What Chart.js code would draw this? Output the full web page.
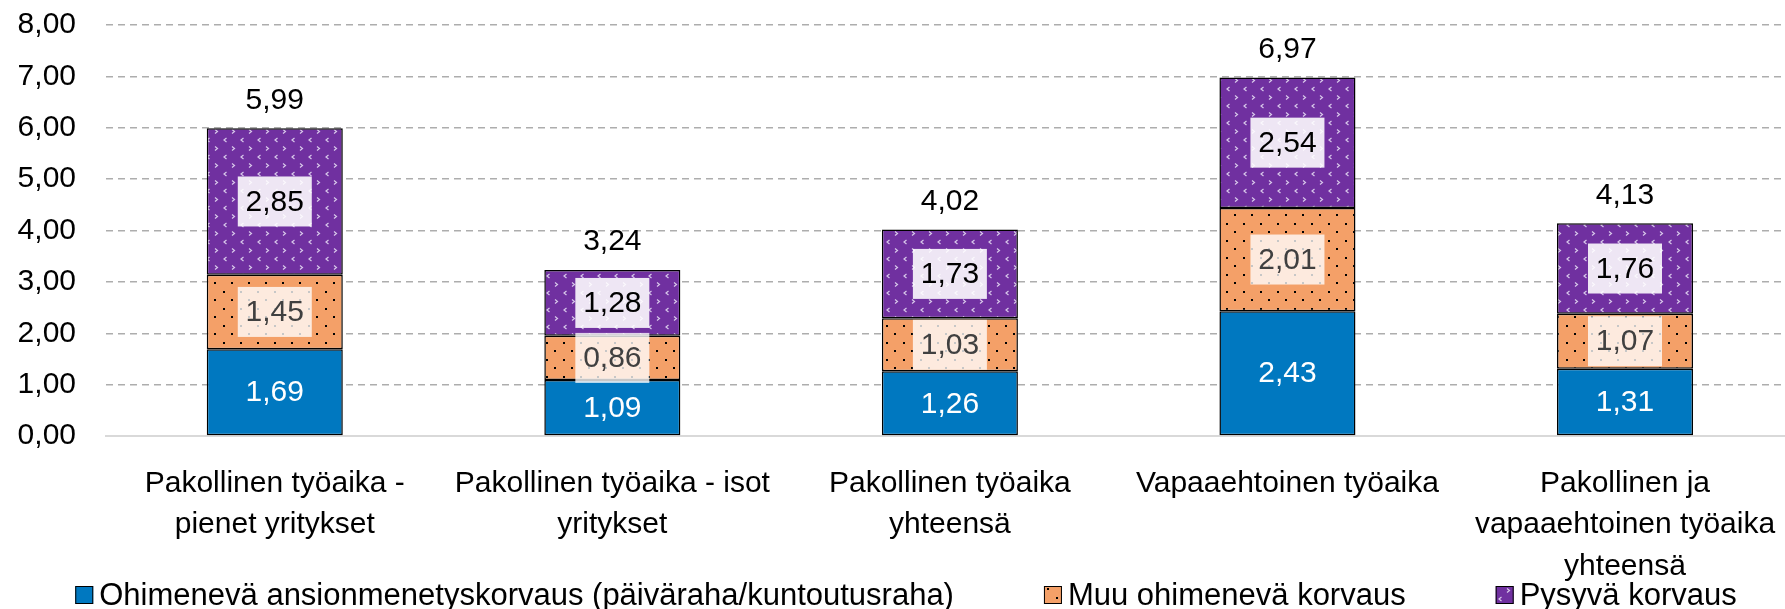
<!DOCTYPE html>
<html>
<head>
<meta charset="utf-8">
<script src="https://cdn.jsdelivr.net/npm/chart.js@4"></script>
<style>
  html, body { margin: 0; padding: 0; background: #fff; }
  #chart { display: block; }
</style>
</head>
<body>
<canvas id="chart" width="1785" height="609"></canvas>
<script>
// ==================== DATA ====================
const categories = [
    ['Pakollinen työaika -', 'pienet yritykset'],
    ['Pakollinen työaika - isot', 'yritykset'],
    ['Pakollinen työaika', 'yhteensä'],
    'Vapaaehtoinen työaika',
    ['Pakollinen ja', 'vapaaehtoinen työaika', 'yhteensä']
];
const seriesNames = [
    'Ohimenevä ansionmenetyskorvaus (päiväraha/kuntoutusraha)',
    'Muu ohimenevä korvaus',
    'Pysyvä korvaus'
];
const ohimenevaValues = [1.69, 1.09, 1.26, 2.43, 1.31];
const muuValues = [1.45, 0.86, 1.03, 2.01, 1.07];
const pysyvaValues = [2.85, 1.28, 1.73, 2.54, 1.76];
const totalValues = [5.99, 3.24, 4.02, 6.97, 4.13];
const yTicks = [0, 1, 2, 3, 4, 5, 6, 7, 8];
const categoryIndex = categories.map((c, i) => i);

const FONT = '"Liberation Sans", Arial, sans-serif';
const FONT_SIZE = 30;

function fmt(v) {
    return v.toFixed(2).replace('.', ',');
}

// ==================== PATTERNS ====================
const canvas = document.getElementById('chart');
const ctx2d = canvas.getContext('2d');

function makePattern(bg, drawMarks) {
    const tile = document.createElement('canvas');
    tile.width = 17;
    tile.height = 17;
    const g = tile.getContext('2d');
    g.fillStyle = bg;
    g.fillRect(0, 0, 17, 17);
    drawMarks(g);
    return ctx2d.createPattern(tile, 'repeat');
}

const blueFill = '#0078C0';
const orangeFill = makePattern('#F4A068', g => {
    g.fillStyle = '#000';
    g.fillRect(2, 2, 2, 2);
    g.fillRect(10, 10, 2, 2);
});
const purpleFill = makePattern('#7030A0', g => {
    g.strokeStyle = '#D8C8EA';
    g.lineWidth = 1.2;
    // '<'
    g.beginPath();
    g.moveTo(5.5, 2); g.lineTo(3, 4); g.lineTo(5.5, 6);
    g.stroke();
    // '>'
    g.beginPath();
    g.moveTo(11, 10.5); g.lineTo(13.5, 12.5); g.lineTo(11, 14.5);
    g.stroke();
});

// ==================== PLUGINS ====================
const segmentLabels = {
    id: 'segmentLabels',
    afterDatasetsDraw(chart) {
        const ctx = chart.ctx;
        ctx.save();
        ctx.font = FONT_SIZE + 'px ' + FONT;
        ctx.textAlign = 'center';
        ctx.textBaseline = 'middle';
        chart.data.datasets.forEach((ds, di) => {
            const meta = chart.getDatasetMeta(di);
            meta.data.forEach((bar, i) => {
                const y = (bar.y + bar.base) / 2;
                if (ds.labelBox) {
                    ctx.fillStyle = ds.labelBox;
                    ctx.fillRect(bar.x - 37, y - 25, 74, 50);
                }
                ctx.fillStyle = ds.labelColor;
                ctx.fillText(fmt(ds.data[i]), bar.x, y + 1);
            });
        });
        // totals above the stacks
        const topMeta = chart.getDatasetMeta(chart.data.datasets.length - 1);
        ctx.fillStyle = '#000';
        topMeta.data.forEach((bar, i) => {
            ctx.fillText(fmt(totalValues[i]), bar.x, bar.y - 28);
        });
        ctx.restore();
    }
};

const bottomLegend = {
    id: 'bottomLegend',
    afterDraw(chart) {
        const ctx = chart.ctx;
        const box = 18, textGap = 6, itemGap = 90, cy = 595;
        ctx.save();
        ctx.font = '31px ' + FONT;
        ctx.textBaseline = 'middle';
        const widths = chart.data.datasets.map(ds => box + textGap + ctx.measureText(ds.label).width);
        const total = widths.reduce((a, b) => a + b, 0) + itemGap * (widths.length - 1);
        let x = 906 - total / 2;
        chart.data.datasets.forEach((ds, i) => {
            ctx.fillStyle = ds.backgroundColor;
            ctx.fillRect(x, cy - box / 2, box, box);
            ctx.strokeStyle = '#000';
            ctx.lineWidth = 1;
            ctx.strokeRect(x + 0.5, cy - box / 2 + 0.5, box - 1, box - 1);
            ctx.fillStyle = '#000';
            ctx.textAlign = 'left';
            ctx.fillText(ds.label, x + box + textGap, cy + 1);
            x += widths[i] + itemGap;
        });
        ctx.restore();
    }
};

// ==================== CHART ====================
const barCommon = {
    borderColor: '#000',
    borderWidth: 1.5,
    borderSkipped: false,
    categoryPercentage: 1.0,
    barPercentage: 0.403
};

new Chart(canvas, {
    type: 'bar',
    data: {
        labels: categoryIndex,
        datasets: [
            Object.assign({
                label: seriesNames[0],
                data: ohimenevaValues,
                backgroundColor: blueFill,
                labelColor: '#fff',
                labelBox: null
            }, barCommon),
            Object.assign({
                label: seriesNames[1],
                data: muuValues,
                backgroundColor: orangeFill,
                labelColor: '#404040',
                labelBox: 'rgba(255, 255, 255, 0.78)'
            }, barCommon),
            Object.assign({
                label: seriesNames[2],
                data: pysyvaValues,
                backgroundColor: purpleFill,
                labelColor: '#000',
                labelBox: 'rgba(255, 255, 255, 0.88)'
            }, barCommon)
        ]
    },
    options: {
        responsive: false,
        devicePixelRatio: 1,
        animation: false,
        layout: {
            autoPadding: false,
            padding: { left: 18, right: 0, top: 25, bottom: 4 }
        },
        plugins: {
            legend: { display: false },
            tooltip: { enabled: false }
        },
        scales: {
            x: {
                type: 'linear',
                stacked: true,
                offset: false,
                min: -0.5,
                max: 4.474,
                afterBuildTicks: axis => {
                    axis.ticks = categoryIndex.map(v => ({ value: v }));
                },
                afterFit: axis => {
                    axis.height = 169;
                    axis.paddingLeft = 0;
                    axis.paddingRight = 0;
                },
                grid: { display: false, drawTicks: false },
                border: { display: true, color: '#D9D9D9', width: 2 },
                ticks: {
                    color: '#000',
                    padding: 27,
                    maxRotation: 0,
                    autoSkip: false,
                    font: { family: FONT, size: FONT_SIZE, lineHeight: 1.38 },
                    callback: v => categories[v]
                }
            },
            y: {
                stacked: true,
                min: 0,
                max: 8,
                afterBuildTicks: axis => {
                    axis.ticks = yTicks.map(v => ({ value: v }));
                },
                afterFit: axis => {
                    axis.width = 88;
                },
                grid: {
                    drawTicks: true,
                    tickLength: 23,
                    tickColor: 'rgba(0,0,0,0)',
                    lineWidth: 1.5,
                    color: c => c.tick && c.tick.value === 0 ? 'rgba(0,0,0,0)' : '#ADADAD'
                },
                border: { display: false, dash: [7, 5] },
                ticks: {
                    color: '#000',
                    padding: 7,
                    font: { family: FONT, size: FONT_SIZE },
                    callback: v => fmt(v)
                }
            }
        }
    },
    plugins: [segmentLabels, bottomLegend]
});
</script>
</body>
</html>
